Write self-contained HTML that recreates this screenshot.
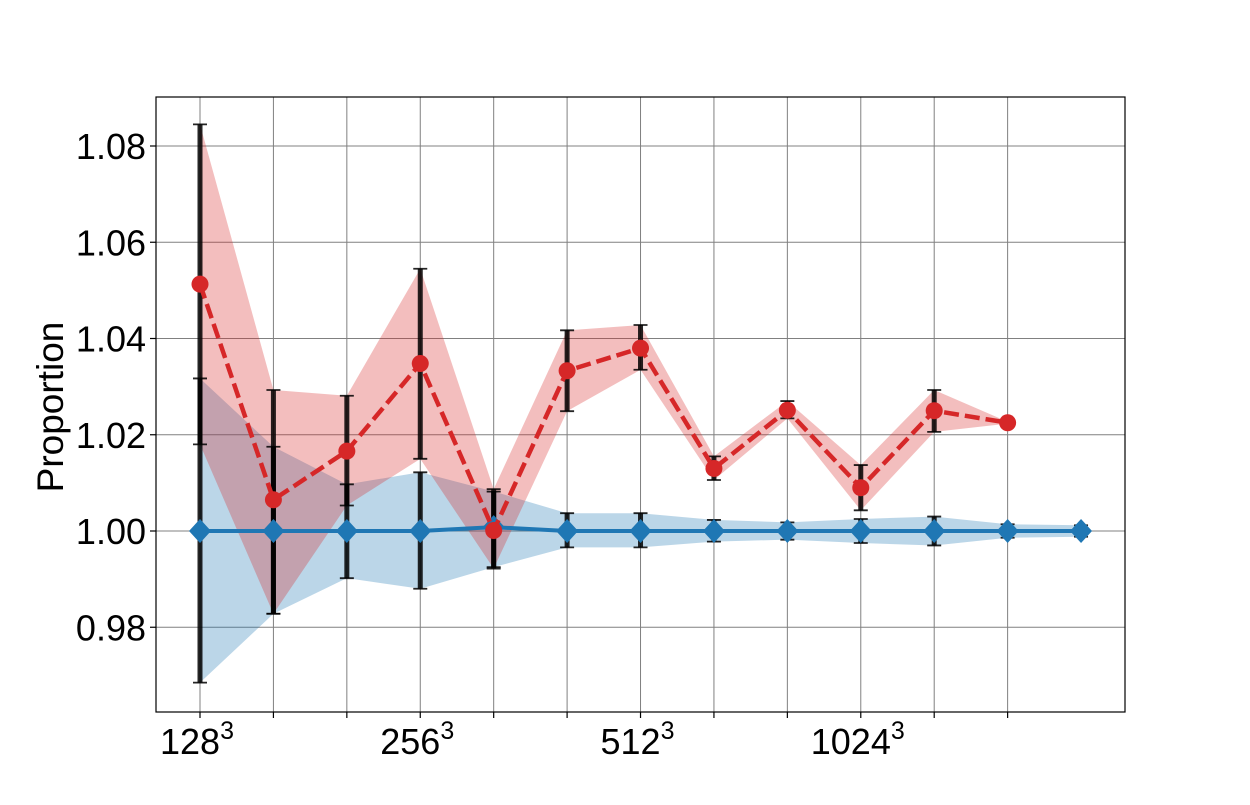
<!DOCTYPE html>
<html><head><meta charset="utf-8"><style>
body{margin:0;background:#fff;}
svg text{font-family:"Liberation Sans",sans-serif;fill:#000;}
</style></head><body>
<svg id="chart" width="1250" height="800" xmlns="http://www.w3.org/2000/svg">
<g id="grid"></g>
<g id="fills"></g>
<g id="errs"></g>
<g id="lines"></g>
<rect x="156" y="97" width="969" height="615" fill="none" stroke="#000" stroke-width="1.2"/>
<g id="axes"></g>
<text transform="translate(63,407) rotate(-90)" text-anchor="middle" style="font-size:37px">Proportion</text>
</svg>
<script>
const categories = ["128","","","256","","","512","","","1024","",""];
const yTicks = [0.98, 1.00, 1.02, 1.04, 1.06, 1.08];
const redValues = [1.0513,1.0065,1.0166,1.0348,1.0001,1.0333,1.0380,1.0130,1.0251,1.0090,1.0250,1.0225];
const redUpper = [1.0845,1.0293,1.0281,1.0545,1.0087,1.0417,1.0428,1.0155,1.0270,1.0137,1.0293,1.0227];
const redLower = [1.0180,0.9828,1.0053,1.0150,0.9922,1.0249,1.0335,1.0106,1.0234,1.0043,1.0206,1.0223];
const blueValues = [1.0000,1.0000,1.0000,1.0000,1.0008,1.0000,1.0000,1.0000,1.0000,1.0000,1.0000,1.0000,1.0000];
const blueUpper = [1.0317,1.0175,1.0097,1.0122,1.0082,1.0037,1.0037,1.0023,1.0018,1.0025,1.0030,1.0014,1.0012];
const blueLower = [0.9685,0.9828,0.9902,0.9880,0.9925,0.9966,0.9966,0.9978,0.9982,0.9975,0.9970,0.9986,0.9988];

const NS="http://www.w3.org/2000/svg";
const X0=156,X1=1125,Y0=97,Y1=712;
const xs=i=>200+i*73.42;
const ys=v=>531-(v-1.0)*4812.5;
function mk(tag,parent,attrs){const e=document.createElementNS(NS,tag);for(const k in attrs)e.setAttribute(k,attrs[k]);document.getElementById(parent).appendChild(e);return e;}

categories.forEach((c,i)=>{
  const g=mk('line','grid',{x1:xs(i),x2:xs(i),y1:Y0,y2:Y1,stroke:'#808080','stroke-width':1});
  
  
  const t=mk('line','axes',{x1:xs(i),x2:xs(i),y1:Y1,y2:Y1+6,stroke:'#000','stroke-width':1.2});
  
  
  if(c){
    const tx=mk('text','axes',{x:xs(i)-3,y:754,'text-anchor':'middle',style:'font-size:36px'});
    
    
    tx.textContent=c;
    const sp=document.createElementNS(NS,'tspan');sp.setAttribute('dy','-15');sp.setAttribute('style','font-size:25px');sp.textContent='3';tx.appendChild(sp);
  }
});
yTicks.forEach(v=>{
  const g=mk('line','grid',{x1:X0,x2:X1,y1:ys(v),y2:ys(v),stroke:'#808080','stroke-width':1});
  
  
  const t=mk('line','axes',{x1:X0-6,x2:X0,y1:ys(v),y2:ys(v),stroke:'#000','stroke-width':1.2});
  
  
  const tx=mk('text','axes',{x:X0-10,y:ys(v)+13,'text-anchor':'end',style:'font-size:36px'});
  
  
  tx.textContent=v.toFixed(2);
});

function band(up,lo,color,name){
  const pts=up.map((v,i)=>xs(i)+','+ys(v)).concat(lo.map((v,i)=>[xs(i),ys(v)]).reverse().map(p=>p[0]+','+p[1]));
  const p=mk('polygon','fills',{points:pts.join(' '),fill:color,'fill-opacity':0.3});
  
  
}
band(blueUpper,blueLower,'#1f77b4','blue-band');
band(redUpper,redLower,'#d62728','red-band');

function errs(up,lo,name){
  up.forEach((u,i)=>{
    if(Math.abs(u-lo[i])<0.001)return;
    const g=mk('g','errs',{stroke:'#000','stroke-opacity':0.85});
    
    
    const a=document.createElementNS(NS,'path');
    a.setAttribute('d',`M${xs(i)},${ys(u)}V${ys(lo[i])}`);
    a.setAttribute('stroke-width','5');a.setAttribute('fill','none');
    g.appendChild(a);
    const c=document.createElementNS(NS,'path');
    c.setAttribute('d',`M${xs(i)-7},${ys(u)}h14M${xs(i)-7},${ys(lo[i])}h14`);
    c.setAttribute('stroke-width','1.8');g.appendChild(c);
  });
}
errs(blueUpper,blueLower,'blue-error-bar');
errs(redUpper,redLower,'red-error-bar');

const bl=mk('polyline','lines',{points:blueValues.map((v,i)=>xs(i)+','+ys(v)).join(' '),fill:'none',stroke:'#1f77b4','stroke-width':4});


blueValues.forEach((v,i)=>{
  const x=xs(i),y=ys(v);
  const m=mk('polygon','lines',{points:`${x},${y-12} ${x+11},${y} ${x},${y+12} ${x-11},${y}`,fill:'#1f77b4'});
  
  
});
const rl=mk('polyline','lines',{points:redValues.map((v,i)=>xs(i)+','+ys(v)).join(' '),fill:'none',stroke:'#d62728','stroke-width':4.5,'stroke-dasharray':'15,6'});


redValues.forEach((v,i)=>{
  const m=mk('circle','lines',{cx:xs(i),cy:ys(v),r:8.5,fill:'#d62728'});
  
  
});
</script>
</body></html>
